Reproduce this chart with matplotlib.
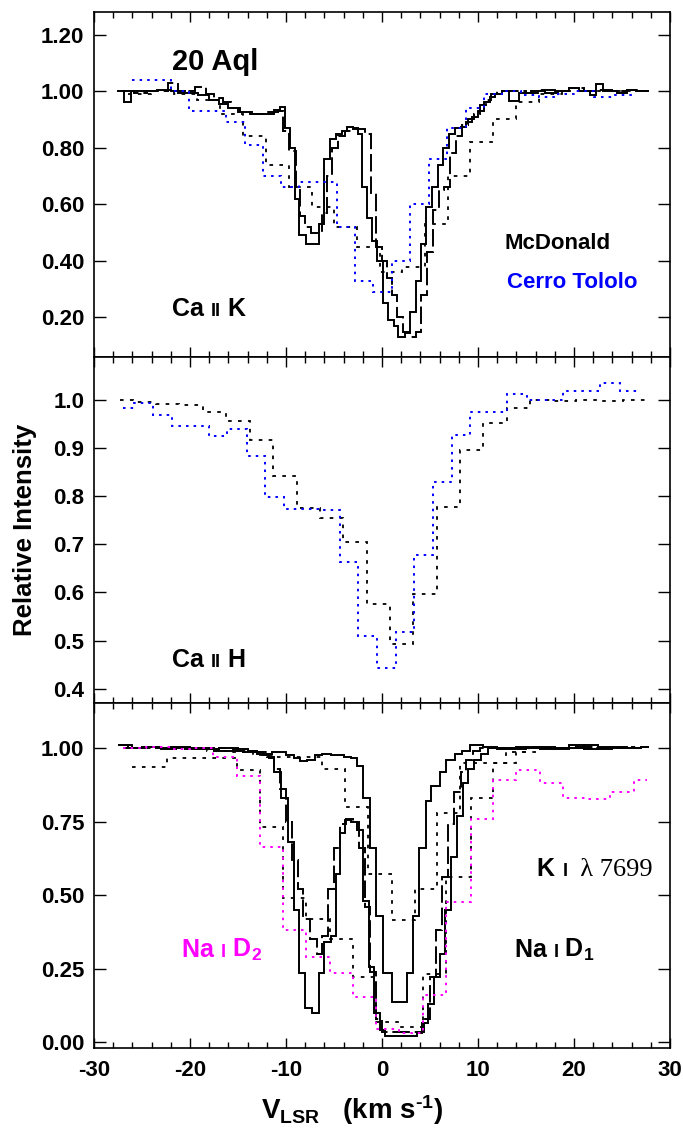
import numpy as np
import matplotlib.pyplot as plt
from matplotlib.ticker import MultipleLocator, FormatStrFormatter
from matplotlib.offsetbox import TextArea, HPacker, AnnotationBbox

plt.rcParams['font.family'] = ['Liberation Sans', 'DejaVu Sans']
plt.rcParams['font.weight'] = 'bold'
plt.rcParams['axes.unicode_minus'] = False
plt.rcParams['mathtext.fontset'] = 'custom'
plt.rcParams['mathtext.rm'] = 'Liberation Sans:bold'
plt.rcParams['mathtext.bf'] = 'Liberation Sans:bold'
plt.rcParams['mathtext.default'] = 'rm'

# ---------------- Ca II K (top) ----------------
# McDonald high resolution, solid
cak_sol_x = [-27.6, -26.9, -26.1, -24.8, -23.4, -22.0, -20.5, -19.2, -18.0, -17.0, -16.0, -15.0, -13.8,
             -12.2, -11.3, -10.6, -10.1, -9.6, -9.1, -8.6, -7.9, -6.6, -6.0, -5.4, -4.8, -4.2, -3.6,
             -3.0, -2.5, -2.1, -1.6, -1.0, -0.5, 0.1, 0.6, 1.2, 1.7, 2.4, 2.9, 3.5, 4.1, 4.6, 5.2,
             5.8, 6.4, 7.0, 7.6, 8.2, 8.8, 9.4, 10.0, 10.6, 11.2, 11.8, 12.5, 13.2, 14.3, 15.5, 17.0,
             18.3, 19.5, 20.5, 21.7, 22.3, 23.0, 24.5, 25.5, 26.5, 27.7]
cak_sol_y = [1.00, 0.96, 1.00, 1.00, 1.005, 1.00, 0.995, 0.985, 0.97, 0.955, 0.94, 0.925, 0.92,
             0.92, 0.935, 0.945, 0.87, 0.80, 0.62, 0.49, 0.46, 0.53, 0.76, 0.83, 0.85, 0.86, 0.875,
             0.865, 0.85, 0.66, 0.55, 0.47, 0.40, 0.25, 0.19, 0.17, 0.13, 0.145, 0.22, 0.33, 0.46,
             0.59, 0.66, 0.74, 0.80, 0.85, 0.87, 0.875, 0.89, 0.91, 0.93, 0.96, 0.98, 0.99, 1.00,
             0.965, 0.995, 1.00, 0.995, 1.00, 1.01, 1.00, 0.985, 1.025, 1.00, 0.995, 1.005, 1.00]
# McDonald high resolution, long dash
cak_dash_x = [-27.0, -25.8, -24.5, -22.3, -21.3, -20.2, -19.5, -18.3, -17.5, -16.6, -15.7, -14.8, -13.5,
              -12.0, -10.8, -10.3, -9.7, -9.0, -8.5, -8.0, -7.4, -6.8, -6.3, -5.7, -5.2, -4.6, -3.9,
              -3.2, -2.5, -1.8, -1.1, -0.6, 0.0, 0.5, 1.0, 1.6, 2.2, 2.9, 3.5, 4.1, 4.7, 5.3, 5.9,
              6.5, 7.1, 7.7, 8.3, 9.0, 9.6, 10.2, 10.8, 11.4, 12.0, 13.5, 15.0, 16.5, 18.0, 19.5,
              21.0, 22.5, 24.0, 25.5, 27.0, 27.8]
cak_dash_y = [1.00, 0.995, 1.00, 1.03, 0.995, 1.00, 1.015, 0.99, 0.975, 0.96, 0.94, 0.925, 0.92,
              0.925, 0.93, 0.86, 0.79, 0.66, 0.56, 0.52, 0.50, 0.50, 0.57, 0.70, 0.80, 0.84, 0.86,
              0.87, 0.865, 0.85, 0.64, 0.45, 0.40, 0.34, 0.28, 0.20, 0.15, 0.13, 0.15, 0.28, 0.43,
              0.58, 0.65, 0.66, 0.78, 0.84, 0.88, 0.90, 0.92, 0.95, 0.97, 0.99, 1.00, 1.00, 0.995,
              1.005, 1.00, 1.01, 1.00, 1.005, 1.00, 1.005, 1.00]
# McDonald low resolution, black dotted
cak_dot_x = [-26.5, -24.1, -21.7, -19.3, -16.9, -14.45, -12.1, -9.7, -7.3, -5.0, -2.6, -0.2, 2.1,
             4.5, 6.9, 9.2, 11.6, 14.0, 16.4, 18.8, 21.1, 23.5, 25.9, 27.3]
cak_dot_y = [0.99, 1.00, 0.99, 0.97, 0.92, 0.84, 0.74, 0.66, 0.59, 0.52, 0.45, 0.36, 0.38,
             0.53, 0.70, 0.82, 0.90, 0.96, 0.99, 1.00, 1.00, 1.00, 1.00]
# Cerro Tololo, blue dotted
cak_ctio_x = [-26.0, -24.0, -22.0, -20.1, -18.2, -16.2, -14.3, -12.4, -10.5, -8.6, -6.7, -4.7, -2.8,
              -0.9, 1.0, 2.9, 4.9, 6.8, 8.7, 10.6, 12.5, 14.5, 16.4, 18.3, 20.2, 22.1, 24.0, 26.0]
cak_ctio_y = [1.04, 1.04, 1.00, 0.93, 0.93, 0.89, 0.81, 0.70, 0.66, 0.68, 0.68, 0.52, 0.33,
              0.29, 0.40, 0.60, 0.76, 0.87, 0.94, 0.99, 1.00, 0.985, 0.98, 0.99, 1.00, 0.98, 0.985]

# ---------------- Ca II H (middle) ----------------
cah_dot_x = [-27.3, -25.9, -23.5, -21.1, -18.6, -16.2, -13.8, -11.4, -8.9, -6.5, -4.06, -1.6, 0.8,
             3.2, 5.7, 8.1, 10.5, 13.0, 15.4, 17.8, 20.2, 22.7, 25.1, 27.5]
cah_dot_y = [1.0, 0.997, 0.993, 0.99, 0.976, 0.956, 0.918, 0.843, 0.775, 0.755, 0.706, 0.577,
             0.493, 0.597, 0.777, 0.896, 0.953, 0.983, 1.0, 0.998, 1.0, 0.998, 1.0]
cah_ctio_x = [-27.0, -25.8, -23.9, -21.9, -20.0, -18.0, -16.1, -14.1, -12.2, -10.2, -8.3, -6.35, -4.4,
              -2.5, -0.5, 1.45, 3.3, 5.3, 7.3, 9.2, 11.1, 13.0, 15.1, 17.0, 18.9, 20.8, 22.7, 24.8, 26.7]
cah_ctio_y = [0.983, 0.995, 0.969, 0.946, 0.946, 0.925, 0.941, 0.883, 0.799, 0.774, 0.774, 0.771,
              0.663, 0.51, 0.443, 0.517, 0.677, 0.829, 0.927, 0.976, 0.976, 1.012, 1.00, 1.00,
              1.019, 1.019, 1.035, 1.02]

# ---------------- Na I / K I (bottom) ----------------
ki_sol_x = [-27.5, -26.5, -25.0, -23.5, -22.0, -20.5, -19.0, -17.5, -16.0, -14.5, -13.0, -11.5, -10.0,
            -9.2, -8.5, -7.8, -7.0, -6.3, -5.3, -4.0, -3.2, -2.6, -2.0, -1.3, -0.6, 0.1, 1.0, 2.6,
            3.2, 3.9, 4.6, 5.1, 6.0, 6.7, 7.6, 8.3, 9.2, 10.5, 12.0, 13.5, 15.0, 16.5, 18.0, 19.5,
            21.0, 22.5, 24.0, 25.5, 27.0, 27.8]
ki_sol_y = [1.01, 1.00, 1.005, 1.00, 1.005, 0.995, 1.00, 0.99, 0.99, 0.985, 0.98, 0.985, 0.975,
            0.965, 0.955, 0.96, 0.975, 0.98, 0.975, 0.97, 0.965, 0.94, 0.83, 0.66, 0.43, 0.235,
            0.135, 0.235, 0.43, 0.66, 0.82, 0.87, 0.92, 0.96, 0.98, 0.99, 1.01, 1.005, 1.00, 0.995,
            1.00, 1.005, 0.995, 1.00, 1.01, 0.995, 1.005, 1.00, 1.005]
nad2_sol_x = [-27.5, -26.0, -24.5, -23.0, -21.5, -20.0, -18.5, -17.0, -15.5, -14.0, -13.0, -12.4, -11.8,
              -11.2, -10.5, -9.8, -9.2, -8.6, -8.0, -7.3, -6.6, -6.0, -5.3, -4.8, -4.4, -3.9, -3.2,
              -2.6, -2.0, -1.4, -0.8, -0.2, 0.3, 3.6, 4.2, 4.8, 5.4, 6.0, 6.6, 7.2, 7.8, 8.4, 9.0,
              9.6, 10.3, 11.0, 12.0, 13.5, 15.0, 16.5, 18.0, 19.5, 21.0, 22.5, 24.0, 25.5, 27.0, 27.8]
nad2_sol_y = [1.01, 1.00, 1.005, 0.995, 1.005, 1.00, 0.995, 1.00, 0.995, 0.99, 0.985, 0.975, 0.965,
              0.92, 0.83, 0.68, 0.45, 0.235, 0.115, 0.10, 0.235, 0.34, 0.36, 0.57, 0.71, 0.755, 0.75,
              0.72, 0.48, 0.255, 0.10, 0.04, 0.02, 0.03, 0.065, 0.13, 0.22, 0.30, 0.45, 0.63, 0.77,
              0.88, 0.93, 0.96, 0.98, 1.00, 0.995, 1.00, 1.005, 0.995, 1.00, 1.01, 0.995, 1.005,
              1.00, 1.00, 1.005]
nad1_dash_x = [-27.0, -25.0, -23.0, -21.0, -19.0, -17.0, -15.0, -13.0, -12.0, -11.3, -10.6, -10.0, -9.4,
               -8.8, -8.2, -7.5, -6.8, -6.2, -5.6, -5.0, -4.4, -3.7, -3.0, -2.4, -1.8, -1.2, -0.6,
               0.0, 4.4, 5.0, 5.6, 6.2, 6.9, 7.5, 8.2, 8.8, 9.5, 10.2, 12.0, 14.0, 16.0, 18.0, 20.0,
               22.0, 24.0, 26.0, 27.8]
nad1_dash_y = [1.00, 1.005, 1.00, 1.00, 0.995, 1.00, 0.99, 0.985, 0.97, 0.93, 0.86, 0.75, 0.62,
               0.52, 0.42, 0.35, 0.30, 0.36, 0.52, 0.66, 0.74, 0.76, 0.75, 0.66, 0.46, 0.24, 0.08,
               0.035, 0.08, 0.22, 0.38, 0.56, 0.74, 0.85, 0.92, 0.96, 0.99, 1.00, 1.00, 1.005, 1.00,
               1.00, 1.005, 1.00, 1.00, 1.005]
nad2_dot_x = [-26.0, -22.4, -17.6, -15.1, -12.7, -10.3, -7.9, -5.4, -3.0, -0.6, 1.8, 4.3, 6.7, 9.3,
              11.6, 14.0, 16.5, 18.9, 21.3, 23.8, 26.2, 27.6]
nad2_dot_y = [0.935, 0.965, 0.965, 0.925, 0.73, 0.49, 0.42, 0.35, 0.22, 0.07, 0.05, 0.23, 0.56,
              0.83, 0.95, 0.985, 1.0, 1.0, 1.0, 1.0, 1.0]
ki_dot_x = [-25.5, -23.0, -20.6, -18.2, -15.8, -13.4, -11.0, -8.6, -6.2, -3.9, -1.5, 1.0, 3.4, 5.7,
            8.1, 10.5, 12.9, 15.3, 17.7, 20.1, 22.6, 25.0, 27.4]
ki_dot_y = [1.00, 1.00, 0.995, 0.99, 0.985, 0.975, 0.97, 0.97, 0.93, 0.80, 0.57, 0.415, 0.52, 0.78,
            0.95, 0.95, 0.985, 1.0, 1.0, 1.0, 1.0, 1.0]
nad2_ctio_x = [-27.0, -24.6, -22.0, -20.0, -17.6, -15.1, -12.7, -10.3, -7.9, -5.4, -3.0, -0.6, 1.8,
               4.3, 6.7, 9.3, 11.6, 14.0, 16.5, 18.9, 21.3, 23.8, 26.2, 27.6]
nad2_ctio_y = [1.00, 1.005, 0.995, 1.0, 0.97, 0.905, 0.665, 0.38, 0.29, 0.235, 0.155, 0.045, 0.03,
               0.16, 0.476, 0.76, 0.89, 0.925, 0.88, 0.83, 0.825, 0.85, 0.89]

solid = dict(color='black', lw=1.4, linestyle='-')
ldash = dict(color='black', lw=1.4, linestyle=(0, (9, 2.5)))
bdot = dict(color='black', lw=1.3, linestyle=(0, (2, 3.5)))
blue = dict(color='blue', lw=1.4, linestyle=(0, (1.3, 2.6)))
mag = dict(color='magenta', lw=1.4, linestyle=(0, (1.3, 2.6)))

fig = plt.figure(figsize=(6.83, 11.36), dpi=100)
L, W = 94 / 683, 576 / 683
ax1 = fig.add_axes([L, 1 - 357 / 1136, W, 345 / 1136])
ax2 = fig.add_axes([L, 1 - 703 / 1136, W, 346 / 1136])
ax3 = fig.add_axes([L, 1 - 1048 / 1136, W, 345 / 1136])

ax1.stairs(cak_sol_y, cak_sol_x, baseline=None, **solid)
ax1.stairs(cak_dash_y, cak_dash_x, baseline=None, **ldash)
ax1.stairs(cak_dot_y, cak_dot_x, baseline=None, **bdot)
ax1.stairs(cak_ctio_y, cak_ctio_x, baseline=None, **blue)

ax2.stairs(cah_dot_y, cah_dot_x, baseline=None, **bdot)
ax2.stairs(cah_ctio_y, cah_ctio_x, baseline=None, **blue)

ax3.stairs(ki_sol_y, ki_sol_x, baseline=None, **solid)
ax3.stairs(nad2_sol_y, nad2_sol_x, baseline=None, **solid)
ax3.stairs(nad1_dash_y, nad1_dash_x, baseline=None, **ldash)
ax3.stairs(nad2_dot_y, nad2_dot_x, baseline=None, **bdot)
ax3.stairs(ki_dot_y, ki_dot_x, baseline=None, **bdot)
ax3.stairs(nad2_ctio_y, nad2_ctio_x, baseline=None, **mag)

ax1.set_ylim(0.06, 1.28)
ax2.set_ylim(0.37, 1.09)
ax3.set_ylim(-0.02, 1.153)
ax1.yaxis.set_major_locator(MultipleLocator(0.2))
ax2.yaxis.set_major_locator(MultipleLocator(0.1))
ax3.yaxis.set_major_locator(MultipleLocator(0.25))
ax1.yaxis.set_major_formatter(FormatStrFormatter('%.2f'))
ax2.yaxis.set_major_formatter(FormatStrFormatter('%.1f'))
ax3.yaxis.set_major_formatter(FormatStrFormatter('%.2f'))

for ax in (ax1, ax2, ax3):
    ax.set_xlim(-30, 30)
    ax.xaxis.set_major_locator(MultipleLocator(10))
    ax.xaxis.set_minor_locator(MultipleLocator(2))
    ax.tick_params(which='both', direction='in', top=True, right=True, width=1.0,
                   labelsize=16)
    ax.tick_params(axis='y', which='major', length=8.5, pad=7)
    ax.tick_params(axis='x', which='major', length=7, pad=9)
    ax.tick_params(axis='x', which='minor', length=4)
    for s in ax.spines.values():
        s.set_linewidth(1.2)
    for lab in ax.get_xticklabels() + ax.get_yticklabels():
        lab.set_fontweight('bold')
ax1.tick_params(labelbottom=False)
ax2.tick_params(labelbottom=False)


def multi_label(ax, parts, xy):
    boxes = [TextArea(s, textprops=kw) for s, kw in parts]
    pack = HPacker(children=boxes, align='baseline', pad=0, sep=0)
    ab = AnnotationBbox(pack, xy, xycoords='axes fraction', frameon=False,
                        box_alignment=(0.5, 0.5))
    ax.add_artist(ab)


big = dict(fontsize=18, fontweight='bold', color='black')
small = dict(fontsize=13, fontweight='bold', color='black')
bigm = dict(fontsize=18, fontweight='bold', color='magenta')
smallm = dict(fontsize=13, fontweight='bold', color='magenta')
serif = dict(fontsize=19, fontweight='normal', color='black', family='Liberation Serif')

ax1.text(0.21, 0.855, '20 Aql', transform=ax1.transAxes, fontsize=21, fontweight='bold',
         ha='center', va='center')
ax1.text(0.805, 0.33, 'McDonald', transform=ax1.transAxes, fontsize=16, fontweight='bold',
         ha='center', va='center', color='black')
ax1.text(0.83, 0.215, 'Cerro Tololo', transform=ax1.transAxes, fontsize=16, fontweight='bold',
         ha='center', va='center', color='blue')
multi_label(ax1, [('Ca ', big), ('II', small), (' K', big)], (0.20, 0.14))
multi_label(ax2, [('Ca ', big), ('II', small), (' H', big)], (0.20, 0.124))
multi_label(ax3, [('K ', big), ('I', small), ('  \u03bb 7699', serif)], (0.87, 0.52))
multi_label(ax3, [('Na ', big), ('I', small), (' D$_1$', big)], (0.80, 0.285))
multi_label(ax3, [('Na ', bigm), ('I', smallm), (' D$_2$', bigm)], (0.222, 0.285))

fig.text(25 / 683, 1 - 530 / 1136, 'Relative Intensity', rotation=90, fontsize=18.5,
         fontweight='bold', ha='center', va='center')
fig.text(352 / 683, 1 - 1110 / 1136, r'V$_{\rm LSR}$   (km s$^{\text{-}1}$)', fontsize=20,
         fontweight='bold', ha='center', va='center')

fig.savefig('out.png', dpi=100)
